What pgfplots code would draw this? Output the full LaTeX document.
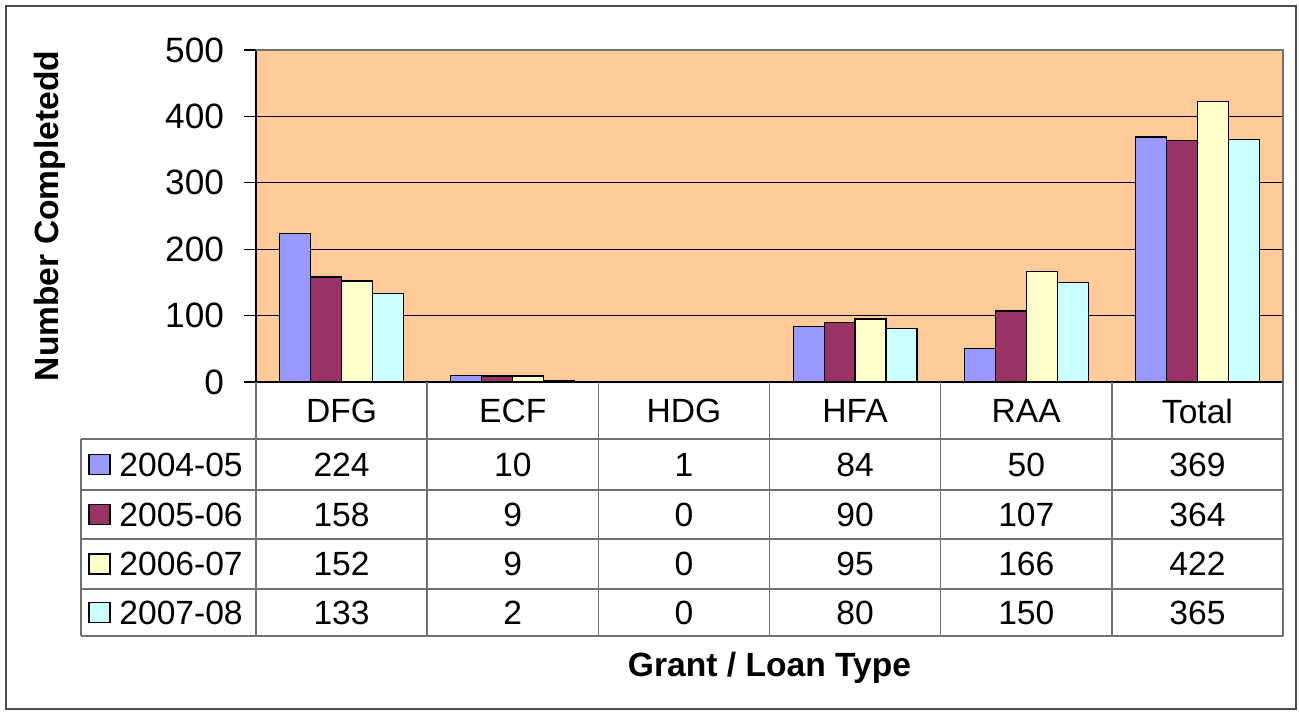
\documentclass[border=0pt]{standalone}
\usepackage{pgfplots}
\pgfplotsset{compat=1.18}
\usepackage{fontspec}
\setmainfont{Liberation Sans}
\definecolor{bgor}{HTML}{FFCC99}
\definecolor{c1}{HTML}{9999FF}
\definecolor{c2}{HTML}{993366}
\definecolor{c3}{HTML}{FFFFCC}
\definecolor{c4}{HTML}{CCFFFF}
\definecolor{tgray}{HTML}{707070}
\newcommand\fs{\fontsize{16.8}{19}\selectfont}
\newcommand\fst{\fontsize{17.6}{20}\selectfont}
\begin{document}
\begin{tikzpicture}
\begin{scope}[x=0.5pt,y=-0.5pt]
\path (0,0) rectangle (1299,711);
\draw[black!70, line width=0.8pt] (6,6) rectangle (1296,709);
\end{scope}
\begin{axis}[
  at={(128pt,-191pt)}, anchor=south west,
  scale only axis, width=513.5pt, height=166pt,
  xmin=-0.5, xmax=5.5, ymin=0, ymax=500,
  ytick={0,100,...,500},
  xtick={0,1,2,3,4,5},
  xticklabels={DFG,ECF,HDG,HFA,RAA,Total},
  x tick style={draw=none},
  xticklabel style={anchor=center, yshift=-8.5pt, font=\fs},
  yticklabel style={font=\fst, xshift=-6.5pt},
  /pgf/number format/assume math mode=true,
  ymajorgrids, grid style={black, line width=0.5pt},
  axis background/.style={fill=bgor},
  axis x line*=bottom, axis y line*=left,
  axis line style={black, line width=0.6pt},
  tick align=outside, major tick length=6pt,
  y tick style={black, line width=0.6pt},
  ybar=0pt, bar width=0.181,
  ylabel={Number Completedd},
  ylabel style={at={(axis description cs:-0.2006,0.5)}, anchor=center, rotate=0, font=\bfseries\fs},
  xlabel={Grant / Loan Type},
  xlabel style={at={(axis description cs:0.5,-0.8614)}, anchor=center, font=\bfseries\fs},
  clip=false,
]
\addplot[fill=c1, draw=black, line width=0.6pt] coordinates {(0,224) (1,10) (2,1) (3,84) (4,50) (5,369)};
\addplot[fill=c2, draw=black, line width=0.6pt] coordinates {(0,158) (1,9) (2,0) (3,90) (4,107) (5,364)};
\addplot[fill=c3, draw=black, line width=0.6pt] coordinates {(0,152) (1,9) (2,0) (3,95) (4,166) (5,422)};
\addplot[fill=c4, draw=black, line width=0.6pt] coordinates {(0,133) (1,2) (2,0) (3,80) (4,150) (5,365)};
\draw[tgray, line width=0.7pt] (rel axis cs:0,1) -- (rel axis cs:1,1) -- (rel axis cs:1,0);
\end{axis}
\begin{scope}[x=0.5pt,y=-0.5pt]
\foreach \i in {0,...,6} \draw[tgray, line width=0.8pt] ({256+\i*171.17},382) -- ({256+\i*171.17},636);
\foreach \yy in {439,490,539,589,636} \draw[tgray, line width=0.8pt] (81,\yy) -- (1283,\yy);
\draw[tgray, line width=0.8pt] (81,439) -- (81,636);
\foreach \lab/\col/\yc/\vals in {2004-05/c1/464.5/{224,10,1,84,50,369},
                                 2005-06/c2/514.5/{158,9,0,90,107,364},
                                 2006-07/c3/564/{152,9,0,95,166,422},
                                 2007-08/c4/612.5/{133,2,0,80,150,365}}{
  \draw[fill=\col, draw=black, line width=0.6pt] (89,\yc-10) rectangle (110,\yc+10);
  \node[font=\fs, anchor=west, inner sep=0pt] at (119,\yc) {\lab};
  \foreach \v [count=\k from 0] in \vals
    \node[font=\fs, inner sep=0pt] at ({256+(\k+0.5)*171.17},\yc) {\v};
}
\end{scope}
\end{tikzpicture}
\end{document}
